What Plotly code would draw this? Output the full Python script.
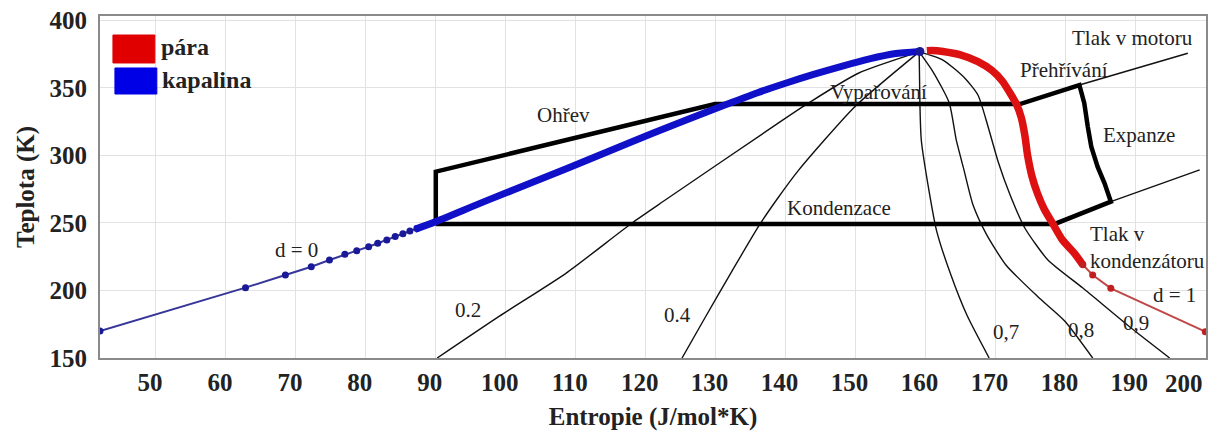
import plotly.graph_objects as go

# ---- data (entropy s [J/mol*K], temperature T [K]) ----
liq_thin_s = [42.0, 62.8, 68.5, 72.2, 74.8, 77.0, 78.7, 80.4, 81.7, 83.0, 84.2, 85.3, 86.3, 87.3]
liq_thin_T = [170.0, 202.1, 211.5, 217.6, 222.6, 226.8, 229.5, 232.4, 235.0, 237.4, 240.0, 242.0, 244.0, 246.0]

liq_thick_s = [87.0, 90.0, 97.0, 105.0, 113.0, 121.0, 131.4, 136.0, 140.0, 144.0, 148.0, 152.0, 155.5, 159.2]
liq_thick_T = [245.3, 251.0, 266.0, 282.5, 299.5, 316.5, 337.5, 346.5, 353.5, 360.0, 366.0, 371.5, 375.3, 377.0]

vap_thick_s = [160.2, 161.0, 162.5, 165.0, 167.5, 169.5, 171.0, 172.0, 173.0, 173.7, 174.2, 174.6, 175.2, 176.0, 177.0, 178.2, 179.5, 181.3, 182.5]
vap_thick_T = [377.6, 377.8, 377.0, 374.5, 369.5, 363.0, 355.0, 347.0, 338.0, 328.0, 315.0, 300.0, 285.0, 272.0, 260.0, 249.5, 238.0, 227.5, 219.0]

vap_thin_s = [182.5, 183.9, 186.5, 200.0]
vap_thin_T = [219.0, 211.5, 201.6, 169.5]

crit_s = [159.2]
crit_T = [377.0]

cycle_s = [90.0, 90.0, 129.9, 173.5, 182.0, 182.7, 183.2, 183.7, 184.6, 185.6, 186.5, 178.5, 90.0]
cycle_T = [249.3, 288.0, 338.1, 338.1, 352.2, 338.7, 321.4, 306.5, 291.7, 279.4, 265.8, 249.3, 249.3]

motor_s = [182.0, 197.5]
motor_T = [352.2, 375.7]
cond_s = [186.5, 199.2]
cond_T = [265.8, 289.4]

q02_s = [159.1, 150.4, 143.3, 139.0, 122.8, 118.0, 108.6, 99.1, 90.2]
q02_T = [376.7, 360.9, 338.9, 324.1, 267.0, 249.8, 212.7, 181.0, 150.0]
q04_s = [159.1, 149.9, 141.9, 138.7, 136.2, 132.3, 128.5, 125.2]
q04_T = [376.7, 336.1, 289.3, 267.0, 248.0, 214.0, 180.0, 150.0]
q07_s = [159.1, 159.2, 159.4, 160.5, 161.6, 163.6, 165.9, 169.1]
q07_T = [376.7, 339.0, 311.5, 274.0, 244.0, 212.0, 182.0, 150.0]
q08_s = [159.1, 161.1, 163.4, 164.4, 165.5, 166.8, 168.7, 171.5, 176.1, 179.9, 183.9]
q08_T = [376.7, 361.8, 338.9, 311.5, 289.3, 263.3, 241.8, 218.9, 195.2, 177.4, 150.0]
q09_s = [159.1, 162.5, 165.6, 167.5, 169.0, 170.4, 172.1, 174.2, 177.5, 182.5, 189.4, 194.9]
q09_T = [376.7, 370.7, 357.4, 344.8, 320.4, 295.2, 270.7, 246.3, 222.6, 201.8, 172.2, 150.0]

x_ticks = [50, 60, 70, 80, 90, 100, 110, 120, 130, 140, 150, 160, 170, 180, 190]
y_ticks = [150, 200, 250, 300, 350, 400]

label_text = ["Ohřev", "Vypařování", "Přehřívání", "Tlak v motoru", "Expanze", "Kondenzace",
              "d = 0", "d = 1", "0.2", "0.4", "0,7", "0,8", "0,9"]
label_s = [108.3, 153.3, 179.8, 189.6, 190.5, 147.6, 70.1, 195.6, 94.6, 124.6, 171.5, 182.3, 190.1]
label_T = [330.0, 347.0, 363.3, 387.0, 315.2, 261.1, 230.0, 196.7, 185.6, 181.8, 169.5, 170.7, 176.0]

legend_names = ["pára", "kapalina"]
legend_colors = ["#e00000", "#0000e6"]

SERIF = "Liberation Serif"

fig = go.Figure()

for qs, qt in [(q02_s, q02_T), (q04_s, q04_T), (q07_s, q07_T), (q08_s, q08_T), (q09_s, q09_T)]:
    fig.add_trace(go.Scatter(x=qs, y=qt, mode="lines", line=dict(color="#111111", width=1.4, shape="spline", smoothing=0.6)))

fig.add_trace(go.Scatter(x=motor_s, y=motor_T, mode="lines", line=dict(color="#111111", width=1.4)))
fig.add_trace(go.Scatter(x=cond_s, y=cond_T, mode="lines", line=dict(color="#111111", width=1.4)))

fig.add_trace(go.Scatter(x=cycle_s, y=cycle_T, mode="lines", line=dict(color="#000000", width=4.5)))

fig.add_trace(go.Scatter(x=liq_thin_s, y=liq_thin_T, mode="lines+markers",
                         line=dict(color="#35359a", width=2),
                         marker=dict(color="#1a1a99", size=7)))
fig.add_trace(go.Scatter(x=liq_thick_s, y=liq_thick_T, mode="lines",
                         line=dict(color="#1010c8", width=7, shape="spline", smoothing=0.8)))
fig.add_trace(go.Scatter(x=vap_thick_s, y=vap_thick_T, mode="lines",
                         line=dict(color="#dd1111", width=7.5, shape="spline", smoothing=0.6)))
fig.add_trace(go.Scatter(x=vap_thin_s, y=vap_thin_T, mode="lines+markers",
                         line=dict(color="#c04848", width=2),
                         marker=dict(color="#c02020", size=7)))
fig.add_trace(go.Scatter(x=crit_s, y=crit_T, mode="markers", marker=dict(color="#1a1a99", size=9)))

annotations = []
for t, s, T in zip(label_text, label_s, label_T):
    annotations.append(dict(x=s, y=T, xref="x", yref="y", text=t, showarrow=False,
                            font=dict(family=SERIF, size=21, color="#222222")))
annotations.append(dict(x=183.2, y=231.9, xref="x", yref="y", text="Tlak v<br>kondenzátoru",
                        showarrow=False, xanchor="left", align="left",
                        font=dict(family=SERIF, size=21, color="#222222")))
annotations.append(dict(x=200, y=-0.0731, xref="x", yref="paper", text="200", showarrow=False,
                        xanchor="right", yanchor="middle",
                        font=dict(family=SERIF, size=25, color="#222222", weight="bold")))

# legend (drawn as boxes + text in paper coordinates)
shapes = []
leg_boxes = [(0.0117, 0.0496, 0.8626, 0.9444), (0.0135, 0.0514, 0.7719, 0.848)]
leg_text_pos = [(0.0532, 0.9094), (0.0542, 0.8129)]
for (x0, x1, y0, y1), c, name, (tx, ty) in zip(leg_boxes, legend_colors, legend_names, leg_text_pos):
    shapes.append(dict(type="rect", xref="paper", yref="paper", x0=x0, x1=x1, y0=y0, y1=y1,
                       fillcolor=c, line=dict(color=c, width=1)))
    annotations.append(dict(x=tx, y=ty, xref="paper", yref="paper", text=name, showarrow=False,
                            xanchor="left", yanchor="middle",
                            font=dict(family=SERIF, size=24, color="#222222", weight="bold")))

axis_common = dict(showgrid=True, gridcolor="#e2e2e2", gridwidth=1, zeroline=False,
                   showline=True, linecolor="#8a8a8a", linewidth=2, mirror=True, ticks="",
                   tickfont=dict(family=SERIF, size=25, color="#222222", weight="bold"))

fig.update_layout(
    width=1211, height=434,
    margin=dict(l=100, r=3, t=16, b=76),
    plot_bgcolor="white", paper_bgcolor="white",
    showlegend=False,
    annotations=annotations,
    shapes=shapes,
    xaxis=dict(range=[42, 200.1], tickvals=x_ticks, ticklabelshift=-6, ticklabelstandoff=1,
               title=dict(text="Entropie (J/mol*K)", standoff=12,
                          font=dict(family=SERIF, size=25, color="#222222", weight="bold")),
               **axis_common),
    yaxis=dict(range=[150, 403.3], tickvals=y_ticks, ticklabelstandoff=6,
               title=dict(text="Teplota (K)", standoff=8,
                          font=dict(family=SERIF, size=25, color="#222222", weight="bold")),
               **axis_common),
)

fig.write_html("out.html")
